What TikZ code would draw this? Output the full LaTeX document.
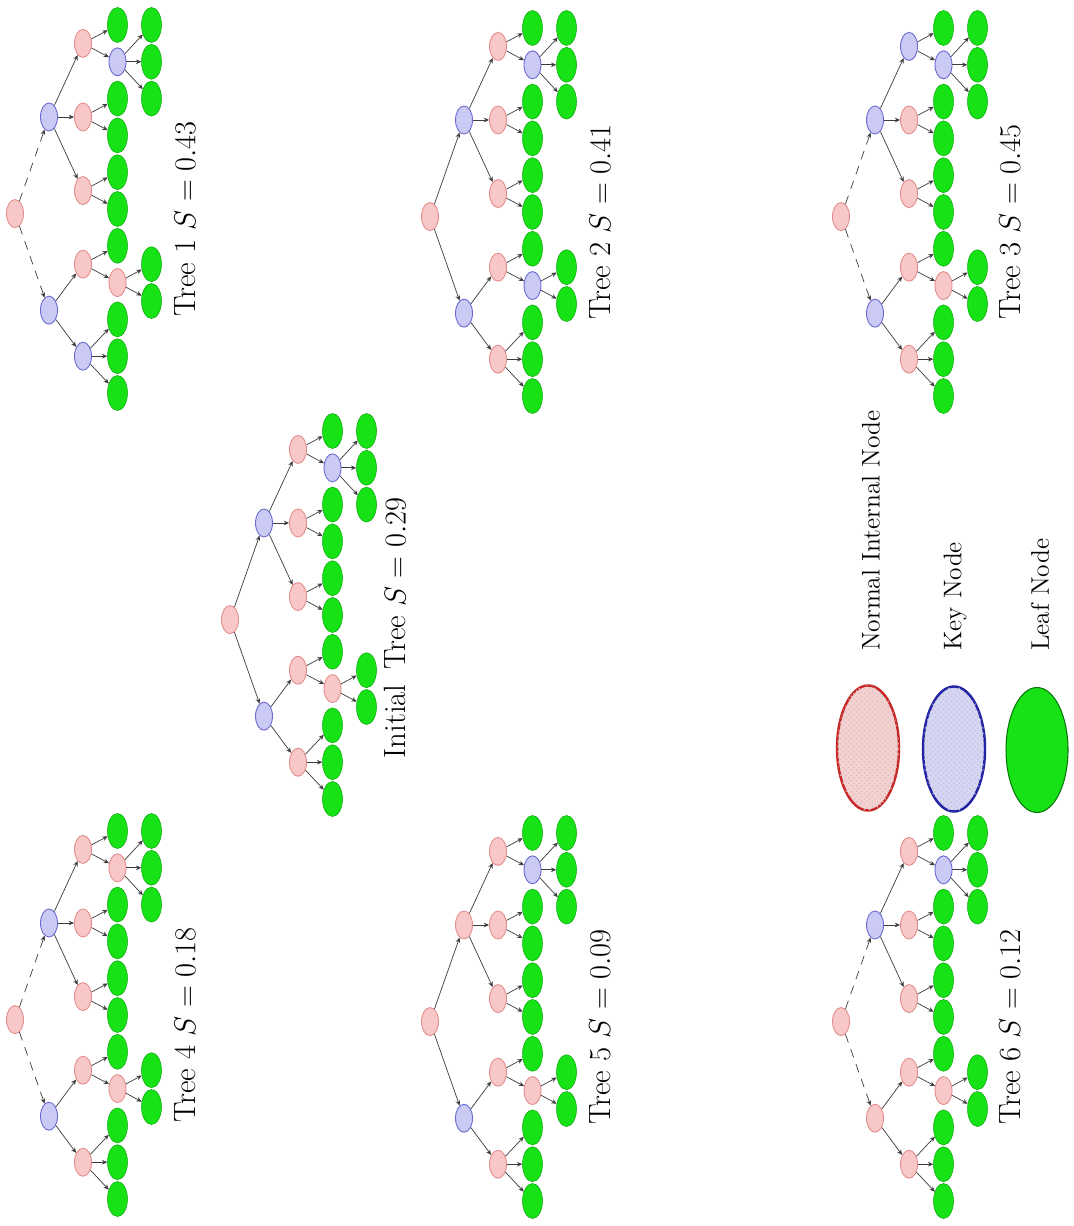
\documentclass[tikz,border=0pt]{standalone}
\usetikzlibrary{shapes.geometric,arrows.meta,patterns}
\definecolor{npink}{RGB}{248,200,200}
\definecolor{nbord}{RGB}{228,140,140}
\definecolor{kblue}{RGB}{202,202,245}
\definecolor{kbord}{RGB}{105,105,210}
\definecolor{leafg}{RGB}{22,226,22}
\definecolor{leafb}{RGB}{12,170,12}
\definecolor{edgec}{RGB}{60,60,60}
\definecolor{legred}{RGB}{200,40,40}
\definecolor{legblue}{RGB}{35,35,165}
\tikzset{
 nn/.style={ellipse, draw=nbord, fill=npink, line width=0.5pt, minimum width=0.34cm, minimum height=0.56cm, inner sep=0pt},
 kn/.style={ellipse, draw=kbord, fill=kblue, line width=0.5pt, minimum width=0.34cm, minimum height=0.56cm, inner sep=0pt},
 lf/.style={ellipse, draw=leafb, fill=leafg, line width=0.3pt, minimum width=0.4cm, minimum height=0.7cm, inner sep=0pt},
 ed/.style={draw=edgec, line width=0.4pt, -{Stealth[length=3pt,width=2.6pt]}},
 rootdash/.style={ed, dash pattern=on 5pt off 4pt},
 treelabel/.style={rotate=90, font=\fontsize{17.5}{20}\selectfont},
 leglabel/.style={rotate=90, anchor=west, font=\fontsize{14.5}{17}\selectfont},
 legnode/.style={ellipse, line width=1.4pt, minimum width=1.24cm, minimum height=2.5cm, inner sep=0pt}
}
\newcommand\mytree[9]{%
\begin{scope}[shift={(#2)}]
 \node[nn] (#1R) at (0,4.6) {};
 \node[#5] (#1Rt) at (34,-92) {};
 \node[#4] (#1L) at (34,101.2) {};
 \node[#8] (#1RR) at (68,-165.6) {};
 \node[nn] (#1RM) at (68,-92) {};
 \node[nn] (#1RL) at (68,-18.4) {};
 \node[nn] (#1LR) at (68,55.2) {};
 \node[#6] (#1LL) at (68,147.2) {};
 \node[lf] (#1a0) at (102.5,-184) {};
 \node[#9] (#1RRX) at (102.5,-147.2) {};
 \node[lf] (#1a2) at (102.5,-110.4) {};
 \node[lf] (#1a3) at (102.5,-73.6) {};
 \node[lf] (#1a4) at (102.5,-36.8) {};
 \node[lf] (#1a5) at (102.5,0) {};
 \node[lf] (#1a6) at (102.5,36.8) {};
 \node[#7] (#1LRX) at (102.5,73.6) {};
 \node[lf] (#1a8) at (102.5,110.4) {};
 \node[lf] (#1a9) at (102.5,147.2) {};
 \node[lf] (#1a10) at (102.5,184) {};
 \node[lf] (#1b0) at (136.5,-184) {};
 \node[lf] (#1b1) at (136.5,-147.2) {};
 \node[lf] (#1b2) at (136.5,-110.4) {};
 \node[lf] (#1c0) at (136.5,55.2) {};
 \node[lf] (#1c1) at (136.5,92) {};
 \draw[#3] (#1R) -- (#1Rt);
 \draw[#3] (#1R) -- (#1L);
 \draw[ed] (#1Rt) -- (#1RR);
 \draw[ed] (#1Rt) -- (#1RM);
 \draw[ed] (#1Rt) -- (#1RL);
 \draw[ed] (#1L) -- (#1LR);
 \draw[ed] (#1L) -- (#1LL);
 \draw[ed] (#1RR) -- (#1a0);
 \draw[ed] (#1RR) -- (#1RRX);
 \draw[ed] (#1RM) -- (#1a2);
 \draw[ed] (#1RM) -- (#1a3);
 \draw[ed] (#1RL) -- (#1a4);
 \draw[ed] (#1RL) -- (#1a5);
 \draw[ed] (#1LR) -- (#1a6);
 \draw[ed] (#1LR) -- (#1LRX);
 \draw[ed] (#1LL) -- (#1a8);
 \draw[ed] (#1LL) -- (#1a9);
 \draw[ed] (#1LL) -- (#1a10);
 \draw[ed] (#1RRX) -- (#1b0);
 \draw[ed] (#1RRX) -- (#1b1);
 \draw[ed] (#1RRX) -- (#1b2);
 \draw[ed] (#1LRX) -- (#1c0);
 \draw[ed] (#1LRX) -- (#1c1);
\end{scope}}
\begin{document}
\begin{tikzpicture}[x=0.02cm,y=-0.02cm]
\path[use as bounding box, fill=white] (0,0) rectangle (1073,1226);
% trees
\mytree{I}{230,615}{ed}{kn}{kn}{nn}{nn}{nn}{kn}
\mytree{A}{15,209}{rootdash}{kn}{kn}{kn}{nn}{nn}{kn}
\mytree{B}{430,212}{ed}{kn}{kn}{nn}{kn}{nn}{kn}
\mytree{C}{841,212}{rootdash}{kn}{kn}{nn}{nn}{kn}{kn}
\mytree{D}{15,1015}{rootdash}{kn}{kn}{nn}{nn}{nn}{nn}
\mytree{E}{430,1017}{ed}{kn}{nn}{nn}{nn}{nn}{kn}
\mytree{F}{841,1017}{rootdash}{nn}{kn}{nn}{nn}{nn}{kn}
% labels
\node[treelabel] (lI) at (395,628) {Initial\ \,Tree $S = 0.29$};
\node[treelabel] (lA) at (185,219) {Tree 1 $S = 0.43$};
\node[treelabel] (lB) at (600,222) {Tree 2 $S = 0.41$};
\node[treelabel] (lC) at (1010,222) {Tree 3 $S = 0.45$};
\node[treelabel] (lD) at (185,1025) {Tree 4 $S = 0.18$};
\node[treelabel] (lE) at (600,1027) {Tree 5 $S = 0.09$};
\node[treelabel] (lF) at (1010,1027) {Tree 6 $S = 0.12$};
% legend
\node[legnode, draw=legred, fill=npink!85!white, postaction={pattern=crosshatch dots, pattern color=gray!45}] (gN) at (868,748) {};
\node[legnode, draw=legblue, fill=kblue!80!white, postaction={pattern=crosshatch dots, pattern color=gray!45}] (gK) at (954,749) {};
\node[legnode, draw=leafb!70!black, line width=0.6pt, fill=leafg] (gL) at (1037,750) {};
\node[leglabel] (tN) at (871,657) {Normal Internal Node};
\node[leglabel] (tK) at (955,657) {Key Node};
\node[leglabel] (tL) at (1040,657) {Leaf Node};
\end{tikzpicture}
\end{document}
